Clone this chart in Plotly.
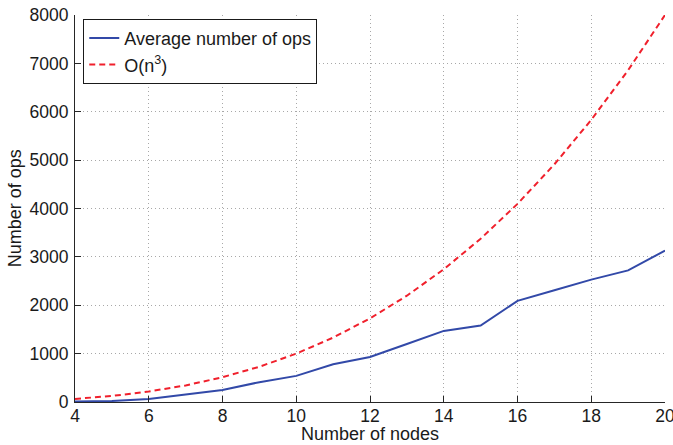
import plotly.graph_objects as go

nodes = [4, 5, 6, 7, 8, 9, 10, 11, 12, 13, 14, 15, 16, 17, 18, 19, 20]
avg_ops = [10, 20, 60, 150, 250, 410, 540, 780, 930, 1200, 1470, 1580, 2090, 2310, 2530, 2720, 3130]
cubic = [64, 125, 216, 343, 512, 729, 1000, 1331, 1728, 2197, 2744, 3375, 4096, 4913, 5832, 6859, 8000]

x_ticks = [4, 6, 8, 10, 12, 14, 16, 18, 20]
y_ticks = [0, 1000, 2000, 3000, 4000, 5000, 6000, 7000, 8000]
x_title = "Number of nodes"
y_title = "Number of ops"

font_family = "Liberation Sans, Arial, Helvetica, sans-serif"

fig = go.Figure()
fig.add_trace(go.Scatter(x=nodes, y=avg_ops, mode="lines", name="Average number of ops",
                         line=dict(color="#3249a8", width=2)))
fig.add_trace(go.Scatter(x=nodes, y=cubic, mode="lines", name="O(n<sup>3</sup>)",
                         line=dict(color="#f0202c", width=2, dash="6px,4px")))

axis_common = dict(
    showline=True, linecolor="#262626", linewidth=1,
    ticks="inside", ticklen=6, tickcolor="#262626",
    showgrid=True, gridcolor="#a8a8a8", griddash="1px,3px", gridwidth=1,
    zeroline=False, tickfont=dict(size=17.5, color="#1a1a1a", family=font_family),
    mirror=False, ticklabeloverflow="allow", automargin=False,
)

fig.update_layout(
    width=673, height=445,
    margin=dict(l=75, r=8, t=15, b=43),
    paper_bgcolor="white", plot_bgcolor="white",
    font=dict(family=font_family, color="#1a1a1a"),
    xaxis=dict(range=[4, 20], tickvals=x_ticks, ticktext=[str(v) for v in x_ticks],
               ticklabelstandoff=-2, **axis_common),
    yaxis=dict(range=[0, 8000], tickvals=y_ticks, ticktext=[str(v) for v in y_ticks],
               ticklabelstandoff=2, **axis_common),
    legend=dict(x=0.014, y=0.99, xanchor="left", yanchor="top",
                bordercolor="#1a1a1a", borderwidth=1, bgcolor="white",
                font=dict(size=18, family=font_family, color="#1a1a1a"),
                tracegroupgap=0, itemwidth=30),
    showlegend=True,
    annotations=[
        dict(text=x_title, xref="paper", yref="paper", x=0.5, y=-0.0827,
             xanchor="center", yanchor="middle", showarrow=False, borderpad=0,
             font=dict(size=18, family=font_family, color="#1a1a1a")),
        dict(text=y_title, xref="paper", yref="paper", x=-0.102, y=0.5,
             xanchor="center", yanchor="middle", showarrow=False, textangle=-90,
             font=dict(size=18, family=font_family, color="#1a1a1a")),
    ],
)

fig.write_html("out.html")
